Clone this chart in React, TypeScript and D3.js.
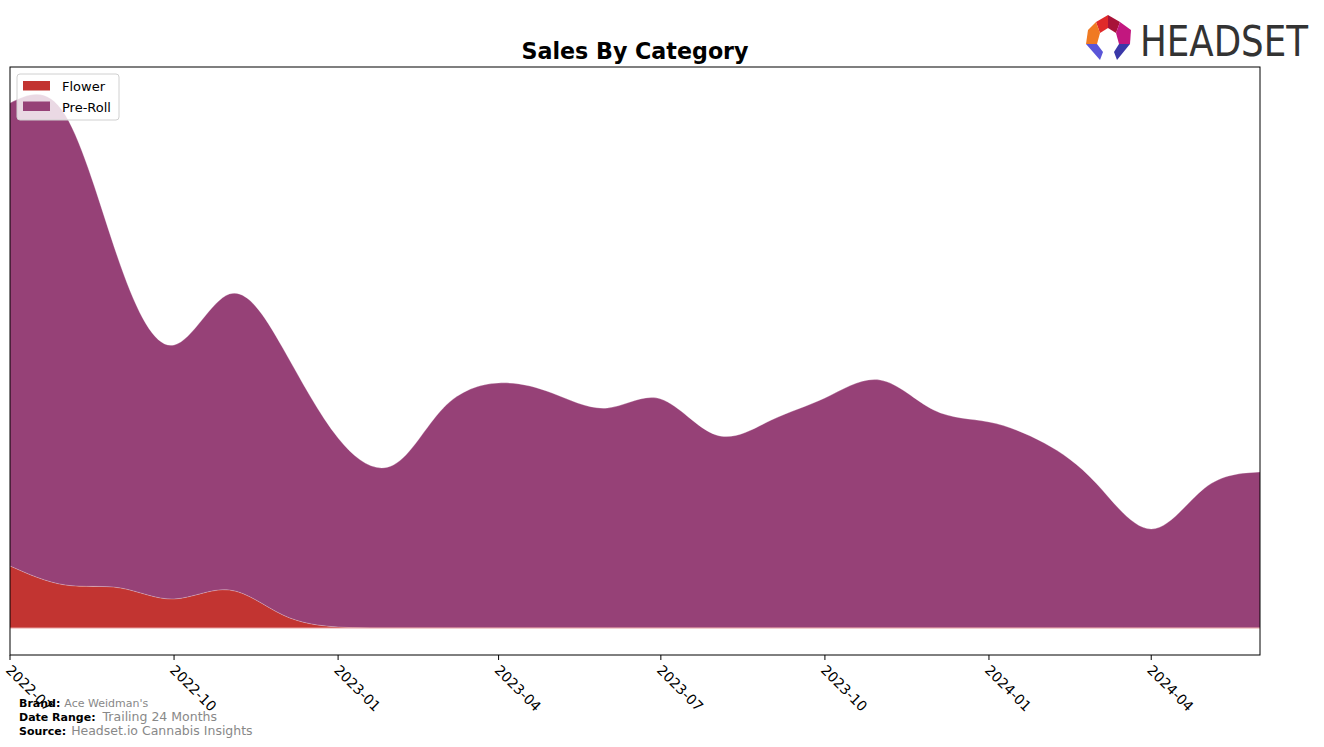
import React from "react";
import * as d3 from "d3";

const months = [
  "2022-07","2022-08","2022-09","2022-10","2022-11","2022-12",
  "2023-01","2023-02","2023-03","2023-04","2023-05","2023-06",
  "2023-07","2023-08","2023-09","2023-10","2023-11","2023-12",
  "2024-01","2024-02","2024-03","2024-04","2024-05","2024-06",
];
const flower = [12.4, 8.6, 8.0, 5.8, 7.6, 2.6, 0.2, 0, 0, 0, 0, 0, 0, 0, 0, 0, 0, 0, 0, 0, 0, 0, 0, 0];
const preRoll = [92.6, 94.0, 64.5, 50.8, 59.2, 53.4, 37.8, 32.6, 44, 49, 47, 44, 45.8, 38.6, 41.6, 46, 49.6, 43.6, 41.2, 37, 29, 19.8, 28, 31.2];
const tickLabels = ["2022-07","2022-10","2023-01","2023-04","2023-07","2023-10","2024-01","2024-04"];
const seriesNames = ["Flower", "Pre-Roll"];
const seriesColors = ["#c23431", "#964177"];

const W = 1324, H = 747;
const L = 10, R = 1260, T = 67, B = 655;

export default function App() {
  const parse = d3.timeParse("%Y-%m");
  const dates = months.map((m) => parse(m)!);
  const x = d3.scaleTime().domain([dates[0], dates[dates.length - 1]]).range([L, R]);
  const y = d3.scaleLinear().domain([-5.4, 112.2]).range([B, T]);

  const rows = months.map((m, i) => ({ date: dates[i], Flower: flower[i], "Pre-Roll": preRoll[i] }));
  const stack = d3.stack<any>().keys(seriesNames)(rows);
  const area = d3
    .area<any>()
    .x((d) => x(d.data.date))
    .y0((d) => y(d[0]))
    .y1((d) => y(d[1]))
    .curve(d3.curveNatural);
  const topLine = d3
    .line<any>()
    .x((d) => x(d.data.date))
    .y((d) => y(d[1]))
    .curve(d3.curveNatural);

  const font = "'DejaVu Sans', sans-serif";

  return (
    <svg width={W} height={H} style={{ position: "absolute", left: 0, top: 0, background: "#fff" }} fontFamily={font}>
      <defs>
        <clipPath id="plot">
          <rect x={L} y={T} width={R - L} height={B - T} />
        </clipPath>
      </defs>
      <text x={635} y={59} textAnchor="middle" fontSize={22.2} fontWeight="bold">Sales By Category</text>
      <g clipPath="url(#plot)">
        {stack.map((s, i) => (
          <path key={i} d={area(s) || ""} fill={seriesColors[i]} />
        ))}
        {stack.map((s, i) => (
          <path key={"l" + i} d={topLine(s) || ""} fill="none" stroke="#fff" strokeOpacity={0.35} strokeWidth={0.8} />
        ))}
        <line x1={L} x2={R} y1={y(0)} y2={y(0)} stroke="#e8a0a0" strokeWidth={1} />
      </g>
      <rect x={L} y={T} width={R - L} height={B - T} fill="none" stroke="#000" strokeWidth={1} />
      {tickLabels.map((t) => {
        const tx = x(parse(t)!);
        return (
          <g key={t} transform={`translate(${tx},${B})`}>
            <line y1={0} y2={5} stroke="#000" />
            <text transform="translate(2,9) rotate(45)" x={0} y={0} dy="0.7em" fontSize={14} textAnchor="start">{t}</text>
          </g>
        );
      })}
      <g>
        <rect x={17} y={74} width={102} height={46} rx={3} fill="#fff" fillOpacity={0.8} stroke="#d0d0d0" />
        {seriesNames.map((n, i) => (
          <g key={n}>
            <rect x={23} y={81 + i * 20.5} width={27} height={9.5} fill={seriesColors[i]} />
            <text x={62} y={91 + i * 20.5} fontSize={13}>{n}</text>
          </g>
        ))}
      </g>
      <g fontSize={11}>
        <text x={19} y={707}><tspan fontWeight="bold">Brand:</tspan><tspan fill="#888" dx={4}>Ace Weidman's</tspan></text>
        <text x={19} y={721}><tspan fontWeight="bold">Date Range:</tspan><tspan fill="#888" dx={7} fontSize={12.5}>Trailing 24 Months</tspan></text>
        <text x={19} y={735}><tspan fontWeight="bold">Source:</tspan><tspan fill="#888" dx={5} fontSize={12.5}>Headset.io Cannabis Insights</tspan></text>
      </g>
      <g>
        <polygon points="1096,22 1108,15 1108,28 1100,33" fill="#e02a2a" />
        <polygon points="1108,15 1120,22 1116,33 1108,28" fill="#a81238" />
        <polygon points="1120,22 1131,30 1130,44 1119,44 1116,33" fill="#c2177f" />
        <polygon points="1096,22 1100,33 1097,44 1086,44 1088,30" fill="#f07a22" />
        <polygon points="1086,44 1097,44 1103,52 1100,60" fill="#5a55d8" />
        <polygon points="1130,44 1119,44 1114,52 1117,60" fill="#3a38a8" />
        <text x={1140} y={56} fontSize={42} fill="#333" fontFamily="'DejaVu Sans Condensed', 'DejaVu Sans', sans-serif" textLength={168} lengthAdjust="spacingAndGlyphs">HEADSET</text>
      </g>
    </svg>
  );
}
